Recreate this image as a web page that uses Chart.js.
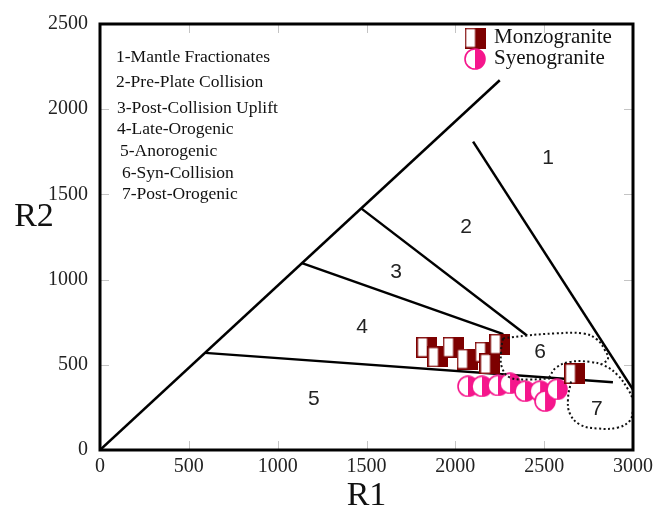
<!DOCTYPE html>
<html>
<head>
<meta charset="utf-8">
<script src="https://cdn.jsdelivr.net/npm/chart.js@4.4.0/dist/chart.umd.min.js"></script>
<style>
  html, body { margin: 0; padding: 0; background: #fff; }
  #wrap { width: 666px; height: 512px; }
</style>
</head>
<body>
<div id="wrap"><canvas id="c" width="666" height="512"></canvas></div>
<script>
// ---- sample data (R1, R2 millications) ----
const monzoR1 = [1840, 1902, 1987, 2066, 2167, 2195, 2251, 2673];
const monzoR2 = [603, 546, 603, 534, 575, 506, 621, 448];
const syenoR1 = [2071, 2150, 2240, 2308, 2392, 2477, 2505, 2572];
const syenoR2 = [374, 374, 379, 391, 345, 345, 287, 356];

// ---- field boundaries (solid) ----
const diagR1 = [0, 2250];    const diagR2 = [0, 2170];
const b12R1  = [2100, 3000]; const b12R2  = [1810, 355];
const b23R1  = [1470, 2403]; const b23R2  = [1418, 672];
const b34R1  = [1137, 2270]; const b34R2  = [1097, 680];
const b45R1  = [591, 2887];  const b45R2  = [570, 397];

// ---- field boundaries (dotted) ----
const f6TopR1 = [2268, 2403, 2561, 2719, 2797, 2842, 2859, 2826];
const f6TopR2 = [655, 672, 684, 684, 649, 586, 534, 506];
const f6LowR1 = [2268, 2257, 2263, 2308, 2420, 2533];
const f6LowR2 = [655, 575, 483, 425, 414, 420];
const f7TopR1 = [2527, 2567, 2645, 2758, 2842, 2916, 2972, 3000];
const f7TopR2 = [425, 483, 517, 517, 494, 437, 356, 299];
const f7LowR1 = [2651, 2634, 2645, 2702, 2803, 2916, 2983, 3000];
const f7LowR2 = [402, 299, 213, 149, 126, 132, 172, 230];

// ---- text ----
const fieldNames = ['1-Mantle Fractionates', '2-Pre-Plate Collision', '3-Post-Collision Uplift',
  '4-Late-Orogenic', '5-Anorogenic', '6-Syn-Collision', '7-Post-Orogenic'];
const fieldNums  = ['1', '2', '3', '4', '5', '6', '7'];
const fieldNumR1 = [2522, 2060, 1666, 1475, 1204, 2477, 2797];
const fieldNumR2 = [1713, 1310, 1046, 718, 299, 575, 241];
const xTicks = [0, 500, 1000, 1500, 2000, 2500, 3000];
const yTicks = [0, 500, 1000, 1500, 2000, 2500];

const MAROON = '#7d0000';
const PINK = '#f5168c';

function pts(xs, ys) { return xs.map((x, i) => ({ x: x, y: ys[i] })); }

function makeSquare() {
  const c = document.createElement('canvas');
  c.width = 21; c.height = 21;
  const g = c.getContext('2d');
  g.fillStyle = '#fff'; g.fillRect(0, 0, 21, 21);
  g.fillStyle = MAROON; g.fillRect(10.5, 0, 10.5, 21);
  g.strokeStyle = MAROON; g.lineWidth = 1.6;
  g.strokeRect(0.8, 0.8, 19.4, 19.4);
  return c;
}
function makeCircle() {
  const c = document.createElement('canvas');
  c.width = 22; c.height = 22;
  const g = c.getContext('2d');
  g.fillStyle = '#fff';
  g.beginPath(); g.arc(11, 11, 10, 0, Math.PI * 2); g.fill();
  g.fillStyle = PINK;
  g.beginPath(); g.arc(11, 11, 10, -Math.PI / 2, Math.PI / 2); g.closePath(); g.fill();
  g.strokeStyle = PINK; g.lineWidth = 1.6;
  g.beginPath(); g.arc(11, 11, 10, 0, Math.PI * 2); g.stroke();
  return c;
}
const squareImg = makeSquare();
const circleImg = makeCircle();

function solid(xs, ys) {
  return { type: 'line', data: pts(xs, ys), borderColor: '#000', borderWidth: 2.5,
    pointRadius: 0, showLine: true, fill: false, tension: 0, order: 2 };
}
function dotted(xs, ys) {
  return { type: 'line', data: pts(xs, ys), borderColor: '#111', borderWidth: 2,
    borderDash: [2, 2.5], pointRadius: 0, showLine: true, fill: false, tension: 0.4, order: 0 };
}

const serif = '"Liberation Serif", "Times New Roman", serif';

const decor = {
  id: 'decor',
  afterDraw(chart) {
    const ctx = chart.ctx, a = chart.chartArea;
    const xs = chart.scales.x, ys = chart.scales.y;
    ctx.save();
    // inner tick marks
    ctx.strokeStyle = '#c4c4c4'; ctx.lineWidth = 1;
    xTicks.slice(1, -1).forEach(v => {
      const p = Math.round(xs.getPixelForValue(v)) + 0.5;
      ctx.beginPath(); ctx.moveTo(p, a.bottom); ctx.lineTo(p, a.bottom - 9);
      ctx.moveTo(p, a.top); ctx.lineTo(p, a.top + 9); ctx.stroke();
    });
    yTicks.slice(1, -1).forEach(v => {
      const p = Math.round(ys.getPixelForValue(v)) + 0.5;
      ctx.beginPath(); ctx.moveTo(a.left, p); ctx.lineTo(a.left + 9, p);
      ctx.moveTo(a.right, p); ctx.lineTo(a.right - 9, p); ctx.stroke();
    });
    // frame
    ctx.strokeStyle = '#000'; ctx.lineWidth = 3;
    ctx.strokeRect(a.left, a.top, a.right - a.left, a.bottom - a.top);

    // field numbers
    ctx.fillStyle = '#222'; ctx.font = '21px "Liberation Sans", Arial, sans-serif';
    ctx.textAlign = 'center'; ctx.textBaseline = 'middle';
    fieldNums.forEach((t, i) => {
      ctx.fillText(t, xs.getPixelForValue(fieldNumR1[i]), ys.getPixelForValue(fieldNumR2[i]));
    });

    // field name list
    ctx.fillStyle = '#111'; ctx.font = '17.5px ' + serif;
    ctx.textAlign = 'left';
    const rowY = [57, 82, 108, 129, 151, 173, 194];
    const rowX = [16, 16, 17, 17, 20, 22, 22];
    fieldNames.forEach((t, i) => ctx.fillText(t, a.left + rowX[i], rowY[i]));

    // series legend
    const sets = chart.data.datasets.filter(d => d.legendImg);
    const legY = [38, 59];
    sets.forEach((d, i) => {
      ctx.drawImage(d.legendImg, a.right - 158 - d.legendImg.width / 2, legY[i] - d.legendImg.height / 2);
      ctx.fillStyle = '#111'; ctx.font = '21px ' + serif;
      ctx.fillText(d.label, a.right - 139, legY[i] - 1);
    });

    // axis titles
    ctx.font = '34px ' + serif;
    ctx.fillStyle = '#111'; ctx.textAlign = 'center';
    ctx.fillText('R2', 34, 217);
    ctx.fillText('R1', (a.left + a.right) / 2, 496);
    ctx.restore();
  }
};

new Chart(document.getElementById('c'), {
  type: 'scatter',
  data: {
    datasets: [
      { label: 'Monzogranite', data: pts(monzoR1, monzoR2), pointStyle: squareImg,
        legendImg: squareImg, order: 1 },
      { label: 'Syenogranite', data: pts(syenoR1, syenoR2), pointStyle: circleImg,
        legendImg: circleImg, order: 1 },
      solid(diagR1, diagR2), solid(b12R1, b12R2), solid(b23R1, b23R2),
      solid(b34R1, b34R2), solid(b45R1, b45R2),
      dotted(f6TopR1, f6TopR2), dotted(f6LowR1, f6LowR2),
      dotted(f7TopR1, f7TopR2), dotted(f7LowR1, f7LowR2)
    ]
  },
  options: {
    responsive: false,
    animation: false,
    events: [],
    layout: { padding: { top: 15, right: 33, left: 0, bottom: 0 } },
    plugins: { legend: { display: false }, tooltip: { enabled: false } },
    scales: {
      x: {
        type: 'linear', min: 0, max: 3000,
        afterBuildTicks(s) { s.ticks = xTicks.map(v => ({ value: v })); },
        afterFit(s) { s.height = 62; },
        grid: { display: false, drawTicks: false }, border: { display: false },
        ticks: { color: '#222', padding: 5, maxRotation: 0,
          callback: v => String(v),
          font: { family: serif, size: 20 } }
      },
      y: {
        type: 'linear', min: 0, max: 2500,
        afterBuildTicks(s) { s.ticks = yTicks.map(v => ({ value: v })); },
        afterFit(s) { s.width = 100; },
        grid: { display: false, drawTicks: false }, border: { display: false },
        ticks: { color: '#222', padding: 12,
          callback: v => String(v),
          font: { family: serif, size: 20 } }
      }
    }
  },
  plugins: [decor]
});
</script>
</body>
</html>
